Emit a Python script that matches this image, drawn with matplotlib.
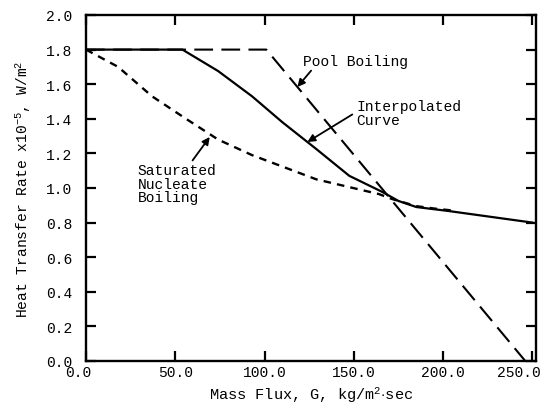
import matplotlib
matplotlib.use("Agg")
import matplotlib.pyplot as plt
import matplotlib.transforms as mtransforms

# Heat transfer rate vs mass flux, three curves
pool_G = [0.0, 101.0, 246.0]
pool_q = [1.80, 1.80, 0.0]

interp_G = [0.0, 54.0, 74.0, 93.0, 110.0, 129.0, 147.5, 166.0, 175.0, 185.0, 203.0, 250.0]
interp_q = [1.80, 1.80, 1.676, 1.53, 1.38, 1.225, 1.07, 0.977, 0.925, 0.89, 0.867, 0.80]

sat_G = [0.0, 18.0, 37.0, 56.0, 74.0, 93.0, 111.0, 129.0, 147.5, 164.0, 171.5, 185.0, 196.0, 207.0]
sat_q = [1.80, 1.70, 1.53, 1.40, 1.28, 1.19, 1.12, 1.05, 1.005, 0.965, 0.936, 0.895, 0.88, 0.868]

x_ticks = [0.0, 50.0, 100.0, 150.0, 200.0, 250.0]
y_ticks = [0.0, 0.2, 0.4, 0.6, 0.8, 1.0, 1.2, 1.4, 1.6, 1.8, 2.0]

plt.rcParams['font.family'] = ['Liberation Mono', 'DejaVu Sans Mono']
plt.rcParams['mathtext.fontset'] = 'custom'
plt.rcParams['mathtext.rm'] = 'Liberation Mono'
plt.rcParams['mathtext.it'] = 'Liberation Mono'

fig = plt.figure(figsize=(5.49, 4.06), dpi=100)
ax = fig.add_axes([0.1566, 0.1084, 0.8197, 0.8522])

ax.plot(pool_G, pool_q, color='black', lw=1.5, dashes=(9, 4))
ax.plot(interp_G, interp_q, color='black', lw=1.6)
ax.plot(sat_G, sat_q, color='black', lw=1.7, dashes=(3.2, 2.6))

ax.set_xlim(0, 252)
ax.set_ylim(0, 2.0)
ax.set_xticks(x_ticks)
ax.set_yticks(y_ticks)
ax.set_xticklabels(['%.1f' % v for v in x_ticks])
ax.set_yticklabels(['%.1f' % v for v in y_ticks])
ax.tick_params(direction='in', length=7, width=1.6, top=True, right=True,
               labelsize=10.5)
ax.tick_params(axis='y', pad=10)
ax.tick_params(axis='x', pad=3)
for s in ax.spines.values():
    s.set_linewidth(1.7)

# nudge the end labels of the x axis so they stay inside the figure
xlabels = ax.get_xticklabels()
for lab, dx in ((xlabels[0], -8), (xlabels[-1], -14)):
    lab.set_transform(lab.get_transform() +
                      mtransforms.ScaledTranslation(dx / 100, 0, fig.dpi_scale_trans))

ax.set_xlabel(r'Mass Flux, G, kg/m$^2$$\cdot$sec', fontsize=11, labelpad=4)
ax.set_ylabel(r'Heat Transfer Rate x10$^{-5}$, W/m$^2$', fontsize=10.5, labelpad=9)

arrow = dict(arrowstyle='-|>', color='black', lw=1.3, mutation_scale=11,
             shrinkA=0, shrinkB=0)
ax.annotate('Pool Boiling', xy=(118.4, 1.584), xytext=(121.5, 1.735),
            fontsize=10.5, va='center', ha='left',
            arrowprops=dict(arrow, relpos=(0.1, 0.0)))
ax.annotate('Interpolated\nCurve', xy=(124.0, 1.266), xytext=(151.5, 1.433),
            fontsize=10.5, va='center', ha='left', linespacing=0.95,
            arrowprops=dict(arrow, relpos=(-0.04, 0.45)))
ax.annotate('Saturated\nNucleate\nBoiling', xy=(69.3, 1.295), xytext=(29.0, 1.025),
            fontsize=10.5, va='center', ha='left', linespacing=0.95,
            arrowprops=dict(arrow, relpos=(0.67, 1.0)))

fig.savefig('out.png', dpi=100)
